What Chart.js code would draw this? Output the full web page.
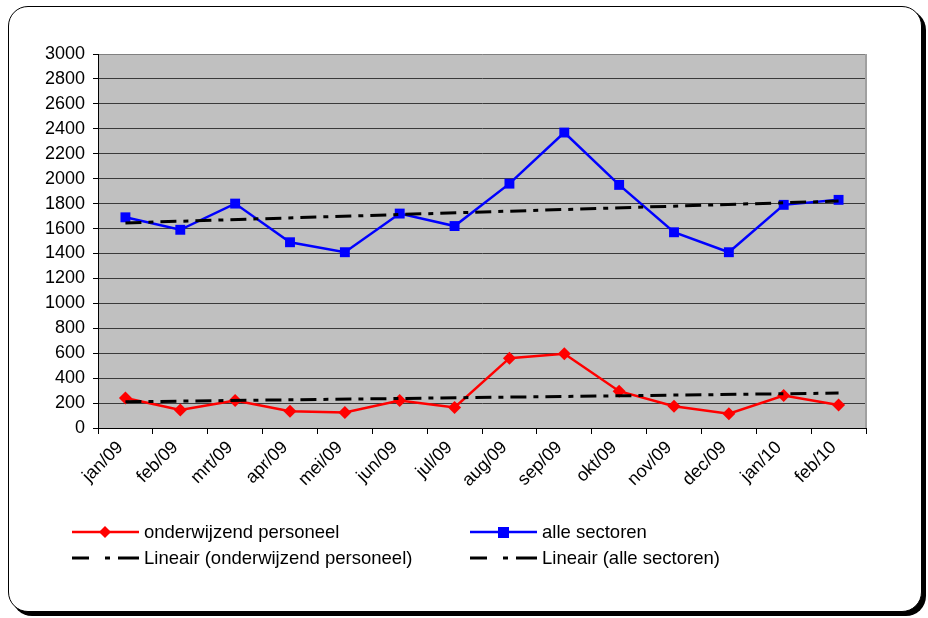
<!DOCTYPE html>
<html>
<head>
<meta charset="utf-8">
<script src="https://cdn.jsdelivr.net/npm/chart.js@4/dist/chart.umd.min.js"></script>
<style>
  html, body { margin: 0; padding: 0; background: #fff; }
  body { width: 928px; height: 618px; position: relative; overflow: hidden; font-family: "Liberation Sans", Arial, sans-serif; }
  #frame { position: absolute; left: 8px; top: 6px; width: 912px; height: 604px; border: 1.5px solid #000; border-radius: 20px; box-shadow: 4px 4px 0 #000; background: #fff; }
  #wrap { position: absolute; left: 0; top: 0; width: 928px; height: 618px; }
  .lg { position: absolute; font-size: 18.5px; color: #000; line-height: 20px; white-space: nowrap; }
  .lg svg { position: absolute; }
</style>
</head>
<body>
<div id="frame"></div>
<div id="wrap"><canvas id="chart"></canvas></div>
<div id="legend"></div>
<script>
// categories and values
const months = ['jan/09','feb/09','mrt/09','apr/09','mei/09','jun/09','jul/09','aug/09','sep/09','okt/09','nov/09','dec/09','jan/10','feb/10']
const onderwijs = [240, 145, 220, 135, 125, 220, 165, 560, 595, 295, 175, 115, 260, 185]
const alleSectoren = [1690, 1590, 1800, 1490, 1410, 1720, 1620, 1960, 2370, 1950, 1570, 1410, 1790, 1830]
// trend lines: only end points, the line is drawn straight between them
const trendOnderwijs = [210, null, null, null, null, null, null, null, null, null, null, null, null, 280]
const trendAlle = [1645, null, null, null, null, null, null, null, null, null, null, null, null, 1820]
const yTicks = { min: 0, max: 3000, step: 200 }

const dashPattern = [16, 7, 5, 7]

// gray plot background + borders
const plotBg = {
  id: 'plotBg',
  beforeDraw(chart){
    const { ctx, chartArea: a } = chart
    ctx.save()
    ctx.fillStyle = '#c0c0c0'
    ctx.fillRect(a.left, a.top, a.right - a.left, a.bottom - a.top)
    ctx.restore()
  },
  afterDatasetsDraw(chart){
    const { ctx, chartArea: a } = chart
    ctx.save()
    ctx.strokeStyle = '#a0a0a0'
    ctx.lineWidth = 2
    ctx.beginPath(); ctx.moveTo(a.right, a.top); ctx.lineTo(a.right, a.bottom); ctx.stroke()
    ctx.restore()
  }
}

const ctx = document.getElementById('chart').getContext('2d')
new Chart(ctx, {
  type: 'line',
  data: {
    labels: months,
    datasets: [
      { label: 'onderwijzend personeel', data: onderwijs, borderColor: '#ff0000', backgroundColor: '#ff0000', borderWidth: 2.5, pointStyle: 'rectRot', pointRadius: 6.5, pointBorderWidth: 0, order: 2 },
      { label: 'alle sectoren', data: alleSectoren, borderColor: '#0000ff', backgroundColor: '#0000ff', borderWidth: 2.5, pointStyle: 'rect', pointRadius: 7, pointBorderWidth: 0, order: 2 },
      { label: 'Lineair (onderwijzend personeel)', data: trendOnderwijs, spanGaps: true, borderColor: '#000', borderWidth: 3, borderDash: dashPattern, pointRadius: 0, order: 1 },
      { label: 'Lineair (alle sectoren)', data: trendAlle, spanGaps: true, borderColor: '#000', borderWidth: 3, borderDash: dashPattern, pointRadius: 0, order: 1 }
    ]
  },
  options: {
    responsive: true,
    maintainAspectRatio: false,
    animation: false,
    layout: { padding: { top: 54, right: 62, bottom: 0, left: 0 } },
    plugins: { legend: { display: false }, tooltip: { enabled: false } },
    scales: {
      x: {
        offset: true,
        afterFit: (axis) => { axis.height = 190 },
        border: { color: '#000', width: 1 },
        grid: { drawOnChartArea: false, tickLength: 6, tickColor: '#000', offset: true },
        ticks: { color: '#000', font: { family: 'Liberation Sans', size: 18 }, minRotation: 45, maxRotation: 45, autoSkip: false, padding: 3, labelOffset: -5 }
      },
      y: {
        min: yTicks.min, max: yTicks.max,
        afterFit: (axis) => { axis.width = 98 },
        border: { color: '#000', width: 1 },
        grid: { color: (c) => c.tick && c.tick.value === yTicks.max ? '#808080' : '#3a3a3a', lineWidth: 1, tickLength: 5, tickColor: '#000' },
        ticks: { stepSize: yTicks.step, color: '#000', font: { family: 'Liberation Sans', size: 18 }, padding: 8, callback: (v) => String(v) }
      }
    }
  },
  plugins: [plotBg]
})

// legend (2 x 2 grid under the chart)
function legendItem(x, y, text, kind){
  const d = document.createElement('div')
  d.className = 'lg'
  d.style.left = (x + 72) + 'px'
  d.style.top = (y - 10) + 'px'
  let svg = ''
  if (kind === 'red') svg = '<svg width="68" height="20" style="left:-72px;top:0"><line x1="0" y1="10" x2="67" y2="10" stroke="#ff0000" stroke-width="2.5"/><polygon points="33,4 39,10 33,16 27,10" fill="#ff0000"/></svg>'
  else if (kind === 'blue') svg = '<svg width="68" height="20" style="left:-72px;top:0"><line x1="0" y1="10" x2="67" y2="10" stroke="#0000ff" stroke-width="2.5"/><rect x="28" y="5" width="11" height="11" fill="#0000ff"/></svg>'
  else svg = '<svg width="68" height="20" style="left:-72px;top:0"><line x1="0" y1="10" x2="17" y2="10" stroke="#000" stroke-width="3"/><line x1="33" y1="10" x2="38" y2="10" stroke="#000" stroke-width="3"/><line x1="46" y1="10" x2="67" y2="10" stroke="#000" stroke-width="3"/></svg>'
  d.innerHTML = svg + '<span>' + text + '</span>'
  document.getElementById('legend').appendChild(d)
}
legendItem(72, 532, 'onderwijzend personeel', 'red')
legendItem(470, 532, 'alle sectoren', 'blue')
legendItem(72, 558, 'Lineair (onderwijzend personeel)', 'trend')
legendItem(470, 558, 'Lineair (alle sectoren)', 'trend')
</script>
</body>
</html>
